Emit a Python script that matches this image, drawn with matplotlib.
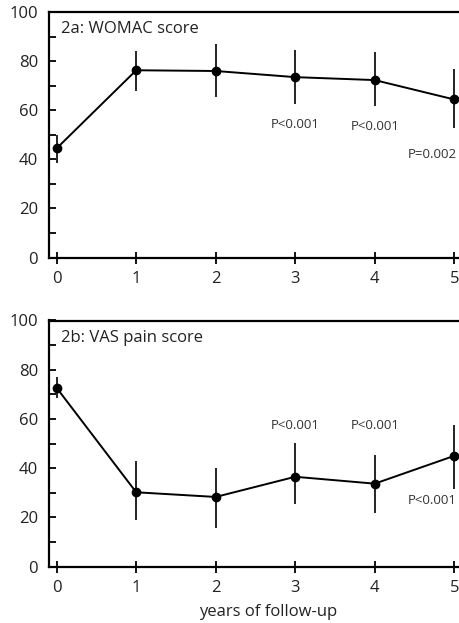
import matplotlib
matplotlib.use("Agg")
import matplotlib.pyplot as plt
from matplotlib.ticker import MultipleLocator

plt.rcParams['font.family'] = ['Open Sans', 'DejaVu Sans']

years = [0, 1, 2, 3, 4, 5]
xtick_labels = ["0", "1", "2", "3", "4", "5"]
ytick_vals = [0, 20, 40, 60, 80, 100]

womac_mean = [44.5, 76.3, 76.0, 73.5, 72.3, 64.4]
womac_low = [38.6, 67.9, 65.3, 62.5, 61.7, 52.6]
womac_high = [49.9, 84.2, 87.2, 84.5, 83.8, 76.7]
womac_p_text = ["P<0.001", "P<0.001", "P=0.002"]
womac_p_x = [3, 4, 4.72]
womac_p_y = [54.0, 53.2, 41.8]

vas_mean = [72.6, 30.2, 28.3, 36.5, 33.7, 45.0]
vas_low = [68.4, 18.9, 15.6, 25.4, 21.7, 31.4]
vas_high = [77.0, 43.1, 40.0, 50.1, 45.4, 57.6]
vas_p_text = ["P<0.001", "P<0.001", "P<0.001"]
vas_p_x = [3, 4, 4.72]
vas_p_y = [57.2, 57.2, 26.8]

W, H = 459, 623
fig = plt.figure(figsize=(W / 100, H / 100), dpi=100)

x_left_px = 49
x0_px = 56.7
step_px = 79.5
xmin = (x_left_px - x0_px) / step_px
xmax = 5.3
right_px = x0_px + xmax * step_px


def make_ax(top_px, bottom_px):
    return fig.add_axes([x_left_px / W, 1 - bottom_px / H,
                         (right_px - x_left_px) / W, (bottom_px - top_px) / H])


def style(ax, title, mean, low, high, ptxt, px, py):
    yerr = [[m - l for m, l in zip(mean, low)], [h - m for m, h in zip(mean, high)]]
    ax.errorbar(years, mean, yerr=yerr, fmt='-o', color='black', lw=1.4,
                elinewidth=1.2, ms=6, capsize=0, clip_on=False, zorder=3)
    ax.set_xlim(xmin, xmax)
    ax.set_ylim(0, 100)
    ax.set_yticks(ytick_vals)
    ax.set_yticklabels([str(v) for v in ytick_vals], fontsize=12, color='#222222')
    ax.yaxis.set_minor_locator(MultipleLocator(10))
    ax.set_xticks(years)
    ax.set_xticklabels(xtick_labels, fontsize=12, color='#222222')
    ax.tick_params(axis='y', which='both', direction='in', length=5, width=1.3, pad=8)
    ax.tick_params(axis='x', which='major', direction='inout', length=8, width=1.3, pad=6)
    for s in ['left', 'bottom', 'top']:
        ax.spines[s].set_linewidth(1.6)
    ax.spines['right'].set_visible(False)
    ax.text(0.06, 93, title, fontsize=12, color='#222222', va='center', ha='left')
    for t, x, y in zip(ptxt, px, py):
        ax.text(x, y, t, fontsize=9.5, color='#333333', ha='center', va='center')


ax1 = make_ax(12.1, 257.5)
style(ax1, "2a: WOMAC score", womac_mean, womac_low, womac_high,
      womac_p_text, womac_p_x, womac_p_y)

ax2 = make_ax(320.5, 566.6)
style(ax2, "2b: VAS pain score", vas_mean, vas_low, vas_high,
      vas_p_text, vas_p_x, vas_p_y)
fig.text(268 / W, 1 - 612 / H, "years of follow-up", fontsize=12,
         color='#222222', ha='center', va='center')

fig.savefig("out.png", dpi=100)
